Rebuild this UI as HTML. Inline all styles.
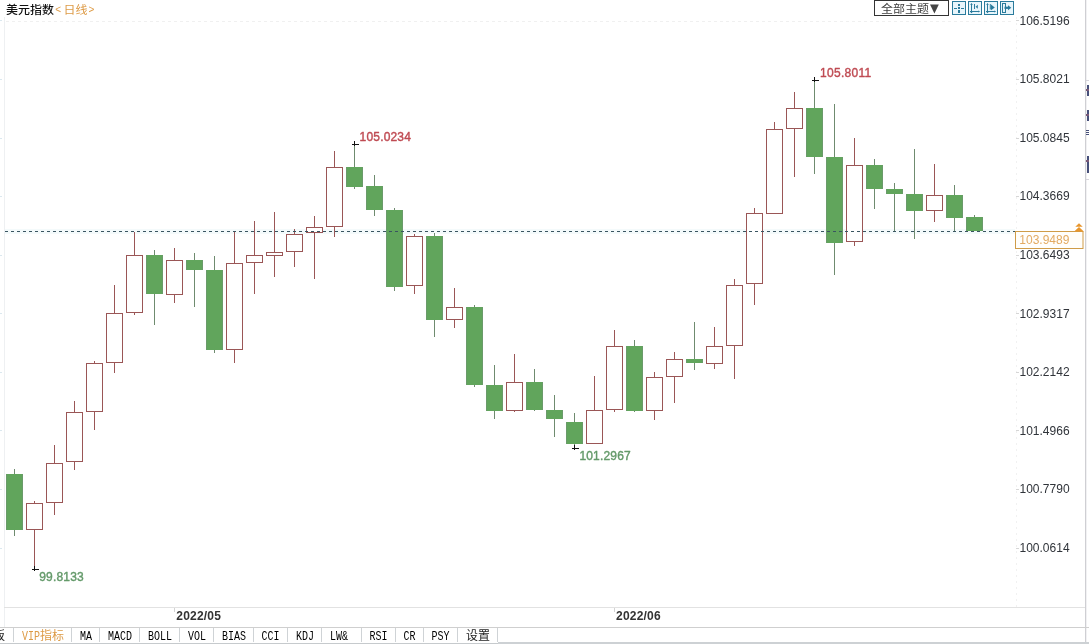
<!DOCTYPE html>
<html lang="zh-CN">
<head>
<meta charset="utf-8">
<title>美元指数 日线</title>
<style>
html,body{margin:0;padding:0;background:#fff;}
body{width:1089px;height:644px;overflow:hidden;}
svg{display:block;}
.sans{font-family:"Liberation Sans","Noto Sans CJK SC",sans-serif;}
.cjk{font-family:"Liberation Sans","Noto Sans CJK SC",sans-serif;}
.mono{font-family:"Liberation Mono","Noto Sans CJK SC",monospace;}
</style>
</head>
<body>
<svg width="1089" height="644" viewBox="0 0 1089 644">
<rect x="0" y="0" width="1089" height="644" fill="#ffffff"/>

<g shape-rendering="crispEdges">
<rect x="4" y="17" width="1" height="610" fill="#eef0f2"/>
<rect x="1085" y="0" width="1" height="644" fill="#cfcfd3"/>
<rect x="1086" y="0" width="1" height="644" fill="#f1f1f3"/>
<rect x="1086" y="80" width="3" height="1" fill="#d6d4dc"/>
<rect x="1086" y="179" width="3" height="1" fill="#d6d4dc"/>
<rect x="4" y="607" width="1081" height="1" fill="#e2e2e2"/>
<rect x="0" y="627" width="1089" height="1" fill="#cfcfcf"/>
<rect x="0" y="643" width="498" height="1" fill="#c6cacd"/>
<rect x="498" y="642" width="591" height="2" fill="#cdd1d4"/>
</g>
<line x1="6" y1="21.5" x2="1013" y2="21.5" stroke="#f0f0f0" stroke-width="1" stroke-dasharray="3 3"/>
<line x1="1016.5" y1="17" x2="1016.5" y2="607" stroke="#f1f1f1" stroke-width="1" stroke-dasharray="2 4"/>
<g class="sans" font-size="12" fill="#30343a">
<text x="1019.5" y="24.7">106.5196</text>
<text x="1019.5" y="83.3">105.8021</text>
<text x="1019.5" y="141.9">105.0845</text>
<text x="1019.5" y="200.4">104.3669</text>
<text x="1019.5" y="259.0">103.6493</text>
<text x="1019.5" y="317.6">102.9317</text>
<text x="1019.5" y="376.2">102.2142</text>
<text x="1019.5" y="434.8">101.4966</text>
<text x="1019.5" y="493.3">100.7790</text>
<text x="1019.5" y="551.9">100.0614</text>
</g>
<g stroke="#d6d6d6" stroke-width="1">
<line x1="1016" y1="20.5" x2="1019" y2="20.5"/>
<line x1="1016" y1="79.5" x2="1019" y2="79.5"/>
<line x1="1016" y1="138.5" x2="1019" y2="138.5"/>
<line x1="1016" y1="196.5" x2="1019" y2="196.5"/>
<line x1="1016" y1="255.5" x2="1019" y2="255.5"/>
<line x1="1016" y1="313.5" x2="1019" y2="313.5"/>
<line x1="1016" y1="372.5" x2="1019" y2="372.5"/>
<line x1="1016" y1="430.5" x2="1019" y2="430.5"/>
<line x1="1016" y1="489.5" x2="1019" y2="489.5"/>
<line x1="1016" y1="548.5" x2="1019" y2="548.5"/>
</g>
<g stroke="#dbe8ef" stroke-width="1">
<line x1="0" y1="20.5" x2="2" y2="20.5"/>
<line x1="0" y1="79.5" x2="2" y2="79.5"/>
<line x1="0" y1="138.5" x2="2" y2="138.5"/>
<line x1="0" y1="196.5" x2="2" y2="196.5"/>
<line x1="0" y1="255.5" x2="2" y2="255.5"/>
<line x1="0" y1="313.5" x2="2" y2="313.5"/>
<line x1="0" y1="372.5" x2="2" y2="372.5"/>
<line x1="0" y1="430.5" x2="2" y2="430.5"/>
<line x1="0" y1="489.5" x2="2" y2="489.5"/>
<line x1="0" y1="548.5" x2="2" y2="548.5"/>
</g>
<line x1="5" y1="231.5" x2="1015" y2="231.5" stroke="#e9f6f8" stroke-opacity="0.5" stroke-width="5"/>
<g shape-rendering="crispEdges">
<rect x="14" y="469" width="1" height="67" fill="#6f8b6f"/>
<rect x="6" y="474" width="17" height="56" fill="#61a55c"/>
<rect x="6" y="474" width="1" height="56" fill="#6a9a6a"/><rect x="22" y="474" width="1" height="56" fill="#6a9a6a"/>
<rect x="34" y="501" width="1" height="2" fill="#9a5656"/>
<rect x="34" y="530" width="1" height="39" fill="#9a5656"/>
<rect x="26.5" y="503.5" width="16" height="26" fill="#ffffff" stroke="#9a5656" stroke-width="1"/>
<rect x="54" y="445" width="1" height="18" fill="#9a5656"/>
<rect x="54" y="503" width="1" height="12" fill="#9a5656"/>
<rect x="46.5" y="463.5" width="16" height="39" fill="#ffffff" stroke="#9a5656" stroke-width="1"/>
<rect x="74" y="401" width="1" height="11" fill="#9a5656"/>
<rect x="74" y="462" width="1" height="8" fill="#9a5656"/>
<rect x="66.5" y="412.5" width="16" height="49" fill="#ffffff" stroke="#9a5656" stroke-width="1"/>
<rect x="94" y="361" width="1" height="2" fill="#9a5656"/>
<rect x="94" y="412" width="1" height="18" fill="#9a5656"/>
<rect x="86.5" y="363.5" width="16" height="48" fill="#ffffff" stroke="#9a5656" stroke-width="1"/>
<rect x="114" y="285" width="1" height="28" fill="#9a5656"/>
<rect x="114" y="363" width="1" height="10" fill="#9a5656"/>
<rect x="106.5" y="313.5" width="16" height="49" fill="#ffffff" stroke="#9a5656" stroke-width="1"/>
<rect x="134" y="232" width="1" height="23" fill="#9a5656"/>
<rect x="134" y="313" width="1" height="2" fill="#9a5656"/>
<rect x="126.5" y="255.5" width="16" height="57" fill="#ffffff" stroke="#9a5656" stroke-width="1"/>
<rect x="154" y="250" width="1" height="75" fill="#6f8b6f"/>
<rect x="146" y="255" width="17" height="39" fill="#61a55c"/>
<rect x="146" y="255" width="1" height="39" fill="#6a9a6a"/><rect x="162" y="255" width="1" height="39" fill="#6a9a6a"/>
<rect x="174" y="248" width="1" height="12" fill="#9a5656"/>
<rect x="174" y="295" width="1" height="8" fill="#9a5656"/>
<rect x="166.5" y="260.5" width="16" height="34" fill="#ffffff" stroke="#9a5656" stroke-width="1"/>
<rect x="194" y="253" width="1" height="54" fill="#6f8b6f"/>
<rect x="186" y="260" width="17" height="10" fill="#61a55c"/>
<rect x="186" y="260" width="1" height="10" fill="#6a9a6a"/><rect x="202" y="260" width="1" height="10" fill="#6a9a6a"/>
<rect x="214" y="256" width="1" height="97" fill="#6f8b6f"/>
<rect x="206" y="270" width="17" height="80" fill="#61a55c"/>
<rect x="206" y="270" width="1" height="80" fill="#6a9a6a"/><rect x="222" y="270" width="1" height="80" fill="#6a9a6a"/>
<rect x="234" y="232" width="1" height="31" fill="#9a5656"/>
<rect x="234" y="350" width="1" height="13" fill="#9a5656"/>
<rect x="226.5" y="263.5" width="16" height="86" fill="#ffffff" stroke="#9a5656" stroke-width="1"/>
<rect x="254" y="221" width="1" height="34" fill="#9a5656"/>
<rect x="254" y="263" width="1" height="31" fill="#9a5656"/>
<rect x="246.5" y="255.5" width="16" height="7" fill="#ffffff" stroke="#9a5656" stroke-width="1"/>
<rect x="274" y="212" width="1" height="40" fill="#9a5656"/>
<rect x="274" y="256" width="1" height="21" fill="#9a5656"/>
<rect x="266.5" y="252.5" width="16" height="3" fill="#ffffff" stroke="#9a5656" stroke-width="1"/>
<rect x="294" y="229" width="1" height="5" fill="#9a5656"/>
<rect x="294" y="252" width="1" height="15" fill="#9a5656"/>
<rect x="286.5" y="234.5" width="16" height="17" fill="#ffffff" stroke="#9a5656" stroke-width="1"/>
<rect x="314" y="216" width="1" height="11" fill="#9a5656"/>
<rect x="314" y="233" width="1" height="46" fill="#9a5656"/>
<rect x="306.5" y="227.5" width="16" height="5" fill="#ffffff" stroke="#9a5656" stroke-width="1"/>
<rect x="334" y="151" width="1" height="16" fill="#9a5656"/>
<rect x="334" y="227" width="1" height="10" fill="#9a5656"/>
<rect x="326.5" y="167.5" width="16" height="59" fill="#ffffff" stroke="#9a5656" stroke-width="1"/>
<rect x="354" y="144" width="1" height="45" fill="#6f8b6f"/>
<rect x="346" y="167" width="17" height="20" fill="#61a55c"/>
<rect x="346" y="167" width="1" height="20" fill="#6a9a6a"/><rect x="362" y="167" width="1" height="20" fill="#6a9a6a"/>
<rect x="374" y="175" width="1" height="41" fill="#6f8b6f"/>
<rect x="366" y="186" width="17" height="24" fill="#61a55c"/>
<rect x="366" y="186" width="1" height="24" fill="#6a9a6a"/><rect x="382" y="186" width="1" height="24" fill="#6a9a6a"/>
<rect x="394" y="208" width="1" height="83" fill="#6f8b6f"/>
<rect x="386" y="210" width="17" height="77" fill="#61a55c"/>
<rect x="386" y="210" width="1" height="77" fill="#6a9a6a"/><rect x="402" y="210" width="1" height="77" fill="#6a9a6a"/>
<rect x="414" y="234" width="1" height="2" fill="#9a5656"/>
<rect x="414" y="286" width="1" height="8" fill="#9a5656"/>
<rect x="406.5" y="236.5" width="16" height="49" fill="#ffffff" stroke="#9a5656" stroke-width="1"/>
<rect x="434" y="233" width="1" height="104" fill="#6f8b6f"/>
<rect x="426" y="236" width="17" height="84" fill="#61a55c"/>
<rect x="426" y="236" width="1" height="84" fill="#6a9a6a"/><rect x="442" y="236" width="1" height="84" fill="#6a9a6a"/>
<rect x="454" y="288" width="1" height="19" fill="#9a5656"/>
<rect x="454" y="320" width="1" height="8" fill="#9a5656"/>
<rect x="446.5" y="307.5" width="16" height="12" fill="#ffffff" stroke="#9a5656" stroke-width="1"/>
<rect x="474" y="305" width="1" height="82" fill="#6f8b6f"/>
<rect x="466" y="307" width="17" height="78" fill="#61a55c"/>
<rect x="466" y="307" width="1" height="78" fill="#6a9a6a"/><rect x="482" y="307" width="1" height="78" fill="#6a9a6a"/>
<rect x="494" y="365" width="1" height="54" fill="#6f8b6f"/>
<rect x="486" y="385" width="17" height="26" fill="#61a55c"/>
<rect x="486" y="385" width="1" height="26" fill="#6a9a6a"/><rect x="502" y="385" width="1" height="26" fill="#6a9a6a"/>
<rect x="514" y="354" width="1" height="28" fill="#9a5656"/>
<rect x="514" y="411" width="1" height="1" fill="#9a5656"/>
<rect x="506.5" y="382.5" width="16" height="28" fill="#ffffff" stroke="#9a5656" stroke-width="1"/>
<rect x="534" y="369" width="1" height="42" fill="#6f8b6f"/>
<rect x="526" y="382" width="17" height="28" fill="#61a55c"/>
<rect x="526" y="382" width="1" height="28" fill="#6a9a6a"/><rect x="542" y="382" width="1" height="28" fill="#6a9a6a"/>
<rect x="554" y="395" width="1" height="42" fill="#6f8b6f"/>
<rect x="546" y="410" width="17" height="9" fill="#61a55c"/>
<rect x="546" y="410" width="1" height="9" fill="#6a9a6a"/><rect x="562" y="410" width="1" height="9" fill="#6a9a6a"/>
<rect x="574" y="413" width="1" height="35" fill="#6f8b6f"/>
<rect x="566" y="422" width="17" height="22" fill="#61a55c"/>
<rect x="566" y="422" width="1" height="22" fill="#6a9a6a"/><rect x="582" y="422" width="1" height="22" fill="#6a9a6a"/>
<rect x="594" y="376" width="1" height="34" fill="#9a5656"/>
<rect x="586.5" y="410.5" width="16" height="33" fill="#ffffff" stroke="#9a5656" stroke-width="1"/>
<rect x="614" y="330" width="1" height="16" fill="#9a5656"/>
<rect x="614" y="410" width="1" height="2" fill="#9a5656"/>
<rect x="606.5" y="346.5" width="16" height="63" fill="#ffffff" stroke="#9a5656" stroke-width="1"/>
<rect x="634" y="340" width="1" height="72" fill="#6f8b6f"/>
<rect x="626" y="346" width="17" height="65" fill="#61a55c"/>
<rect x="626" y="346" width="1" height="65" fill="#6a9a6a"/><rect x="642" y="346" width="1" height="65" fill="#6a9a6a"/>
<rect x="654" y="372" width="1" height="5" fill="#9a5656"/>
<rect x="654" y="411" width="1" height="9" fill="#9a5656"/>
<rect x="646.5" y="377.5" width="16" height="33" fill="#ffffff" stroke="#9a5656" stroke-width="1"/>
<rect x="674" y="352" width="1" height="7" fill="#9a5656"/>
<rect x="674" y="377" width="1" height="26" fill="#9a5656"/>
<rect x="666.5" y="359.5" width="16" height="17" fill="#ffffff" stroke="#9a5656" stroke-width="1"/>
<rect x="694" y="322" width="1" height="48" fill="#6f8b6f"/>
<rect x="686" y="359" width="17" height="4" fill="#61a55c"/>
<rect x="686" y="359" width="1" height="4" fill="#6a9a6a"/><rect x="702" y="359" width="1" height="4" fill="#6a9a6a"/>
<rect x="714" y="327" width="1" height="19" fill="#9a5656"/>
<rect x="714" y="364" width="1" height="5" fill="#9a5656"/>
<rect x="706.5" y="346.5" width="16" height="17" fill="#ffffff" stroke="#9a5656" stroke-width="1"/>
<rect x="734" y="279" width="1" height="6" fill="#9a5656"/>
<rect x="734" y="346" width="1" height="33" fill="#9a5656"/>
<rect x="726.5" y="285.5" width="16" height="60" fill="#ffffff" stroke="#9a5656" stroke-width="1"/>
<rect x="754" y="208" width="1" height="5" fill="#9a5656"/>
<rect x="754" y="284" width="1" height="21" fill="#9a5656"/>
<rect x="746.5" y="213.5" width="16" height="70" fill="#ffffff" stroke="#9a5656" stroke-width="1"/>
<rect x="774" y="122" width="1" height="7" fill="#9a5656"/>
<rect x="766.5" y="129.5" width="16" height="84" fill="#ffffff" stroke="#9a5656" stroke-width="1"/>
<rect x="794" y="92" width="1" height="16" fill="#9a5656"/>
<rect x="794" y="129" width="1" height="48" fill="#9a5656"/>
<rect x="786.5" y="108.5" width="16" height="20" fill="#ffffff" stroke="#9a5656" stroke-width="1"/>
<rect x="814" y="80" width="1" height="94" fill="#6f8b6f"/>
<rect x="806" y="108" width="17" height="49" fill="#61a55c"/>
<rect x="806" y="108" width="1" height="49" fill="#6a9a6a"/><rect x="822" y="108" width="1" height="49" fill="#6a9a6a"/>
<rect x="834" y="104" width="1" height="171" fill="#6f8b6f"/>
<rect x="826" y="157" width="17" height="86" fill="#61a55c"/>
<rect x="826" y="157" width="1" height="86" fill="#6a9a6a"/><rect x="842" y="157" width="1" height="86" fill="#6a9a6a"/>
<rect x="854" y="138" width="1" height="27" fill="#9a5656"/>
<rect x="854" y="242" width="1" height="4" fill="#9a5656"/>
<rect x="846.5" y="165.5" width="16" height="76" fill="#ffffff" stroke="#9a5656" stroke-width="1"/>
<rect x="874" y="159" width="1" height="50" fill="#6f8b6f"/>
<rect x="866" y="165" width="17" height="24" fill="#61a55c"/>
<rect x="866" y="165" width="1" height="24" fill="#6a9a6a"/><rect x="882" y="165" width="1" height="24" fill="#6a9a6a"/>
<rect x="894" y="183" width="1" height="49" fill="#6f8b6f"/>
<rect x="886" y="189" width="17" height="5" fill="#61a55c"/>
<rect x="886" y="189" width="1" height="5" fill="#6a9a6a"/><rect x="902" y="189" width="1" height="5" fill="#6a9a6a"/>
<rect x="914" y="149" width="1" height="90" fill="#6f8b6f"/>
<rect x="906" y="194" width="17" height="17" fill="#61a55c"/>
<rect x="906" y="194" width="1" height="17" fill="#6a9a6a"/><rect x="922" y="194" width="1" height="17" fill="#6a9a6a"/>
<rect x="934" y="164" width="1" height="31" fill="#9a5656"/>
<rect x="934" y="211" width="1" height="11" fill="#9a5656"/>
<rect x="926.5" y="195.5" width="16" height="15" fill="#ffffff" stroke="#9a5656" stroke-width="1"/>
<rect x="954" y="185" width="1" height="46" fill="#6f8b6f"/>
<rect x="946" y="195" width="17" height="23" fill="#61a55c"/>
<rect x="946" y="195" width="1" height="23" fill="#6a9a6a"/><rect x="962" y="195" width="1" height="23" fill="#6a9a6a"/>
<rect x="974" y="215" width="1" height="16" fill="#6f8b6f"/>
<rect x="966" y="217" width="17" height="14" fill="#61a55c"/>
<rect x="966" y="217" width="1" height="14" fill="#6a9a6a"/><rect x="982" y="217" width="1" height="14" fill="#6a9a6a"/>
</g>
<line x1="5" y1="231.5" x2="1015" y2="231.5" stroke="#3a5561" stroke-width="1" stroke-dasharray="3 3" shape-rendering="crispEdges"/>
<g fill="#111111" shape-rendering="crispEdges"><rect x="32" y="569" width="7" height="1"/><rect x="34" y="566" width="1" height="5"/></g>
<g fill="#111111" shape-rendering="crispEdges"><rect x="352" y="144" width="7" height="1"/><rect x="354" y="141" width="1" height="5"/></g>
<g fill="#111111" shape-rendering="crispEdges"><rect x="572" y="448" width="7" height="1"/><rect x="574" y="445" width="1" height="5"/></g>
<g fill="#111111" shape-rendering="crispEdges"><rect x="812" y="80" width="7" height="1"/><rect x="814" y="77" width="1" height="5"/></g>
<g class="sans" font-size="12" stroke-width="0.4" stroke-linejoin="round">
<text x="39.2" y="581.2" fill="#649a6a" stroke="#649a6a" textLength="44.6" lengthAdjust="spacing">99.8133</text>
<text x="359.6" y="141.2" fill="#bf4a52" stroke="#bf4a52" textLength="51.3" lengthAdjust="spacing">105.0234</text>
<text x="579.4" y="459.9" fill="#649a6a" stroke="#649a6a" textLength="51.3" lengthAdjust="spacing">101.2967</text>
<text x="820" y="77" fill="#bf4a52" stroke="#bf4a52" textLength="51.3" lengthAdjust="spacing">105.8011</text>
</g>
<text class="cjk" x="6" y="14.3" font-size="11.3" font-weight="500" fill="#111111" textLength="48" lengthAdjust="spacingAndGlyphs">美元指数</text>
<text class="cjk" y="14.3" fill="#dd9a45" font-size="11.3"><tspan x="55.3" y="13.4" font-size="10">&lt;</tspan><tspan x="63.4" y="14.3" textLength="24" lengthAdjust="spacingAndGlyphs">日线</tspan><tspan x="88.4" y="13.4" font-size="10">&gt;</tspan></text>
<rect x="874.5" y="0.5" width="74" height="15" fill="#ffffff" stroke="#333333" stroke-width="1" shape-rendering="crispEdges"/>
<text class="cjk" x="881" y="12.8" font-size="11.3" fill="#3c3c3c" textLength="48" lengthAdjust="spacingAndGlyphs">全部主题</text>
<text x="930" y="11.5" font-size="11.5" fill="#444444" style="font-family:'DejaVu Sans','Liberation Sans',sans-serif">▼</text>
<rect x="952.5" y="1.5" width="13" height="13" fill="#e8f5fb" stroke="#2a7b9c" stroke-width="1" shape-rendering="crispEdges"/>
<rect x="968.5" y="1.5" width="13" height="13" fill="#e8f5fb" stroke="#2a7b9c" stroke-width="1" shape-rendering="crispEdges"/>
<rect x="984.5" y="1.5" width="13" height="13" fill="#e8f5fb" stroke="#2a7b9c" stroke-width="1" shape-rendering="crispEdges"/>
<rect x="1000.5" y="1.5" width="13" height="13" fill="#e8f5fb" stroke="#2a7b9c" stroke-width="1" shape-rendering="crispEdges"/>
<g fill="#2a7b9c" shape-rendering="crispEdges"><rect x="954" y="7.5" width="3" height="1.5"/><rect x="961" y="7.5" width="3" height="1.5"/><rect x="958.3" y="3.5" width="1.5" height="2.2"/><rect x="958.3" y="10.3" width="1.5" height="2.2"/><rect x="958.3" y="7.3" width="1.5" height="1.7"/></g>
<g stroke="#2a7b9c" stroke-width="1" fill="#2a7b9c"><path d="M971.5 3.5V12.5M970 11.5H979.5" fill="none"/><path d="M970.2 5L971.5 3.2L972.8 5Z M978 10.4L979.8 11.5L978 12.6Z M970.4 12L971.5 13.3L972.6 12Z" stroke="none"/><path d="M974.5 4V9" fill="none"/><path d="M975.6 6.7L977.8 4.7V8.7Z" stroke="none"/></g>
<g stroke="#2a7b9c" stroke-width="1" fill="#2a7b9c"><path d="M987.5 3.5V12.5M986 11.5H995.5" fill="none"/><path d="M986.2 5L987.5 3.2L988.8 5Z M994 10.4L995.8 11.5L994 12.6Z M986.4 12L987.5 13.3L988.6 12Z" stroke="none"/><path d="M990.3 4V9.5" fill="none"/><path d="M991 4.6L994.8 7.4L991 10.2Z" stroke="none"/></g>
<g stroke="#2a7b9c" stroke-width="1" fill="none"><rect x="1002.5" y="3.5" width="3" height="9"/><path d="M1004.5 7.8H1009" stroke-width="2.2"/><path d="M1008 5.3L1011.3 7.8L1008 10.3Z" fill="#2a7b9c" stroke="none"/></g>
<rect x="1015.5" y="231.5" width="67.5" height="17" fill="#fffefb" stroke="#cf9c48" stroke-width="1"/>
<text class="sans" x="1019.3" y="243.8" font-size="12" fill="#e3aa62">103.9489</text>
<path d="M1079 223.2L1082.7 226.8H1075.3Z M1079 227L1083.8 231.4H1074.2Z" fill="#e8962e"/>
<g fill="#47507a" shape-rendering="crispEdges">
<rect x="1087" y="85" width="2" height="11"/><rect x="1086" y="89" width="3" height="2" fill="#7a5a78"/>
<rect x="1087" y="110" width="2" height="11"/><rect x="1086" y="114" width="3" height="2" fill="#7a5a78"/>
<rect x="1087" y="156" width="2" height="17"/><rect x="1086" y="160" width="3" height="2" fill="#7a5a78"/>
<rect x="1086" y="130" width="3" height="1"/><rect x="1086" y="132" width="3" height="1"/><rect x="1086" y="134" width="3" height="1"/>
</g>
<g class="sans" font-size="12" font-weight="bold" fill="#333333">
<text x="176.3" y="620" textLength="44.6" lengthAdjust="spacing">2022/05</text>
<text x="616" y="620" textLength="44.6" lengthAdjust="spacing">2022/06</text>
</g>
<g stroke="#d4d4d4" stroke-width="1"><line x1="174.5" y1="608" x2="174.5" y2="612"/><line x1="614.5" y1="608" x2="614.5" y2="612"/></g>
<g stroke="#cfd3d6" stroke-width="1" shape-rendering="crispEdges">
<line x1="13.5" y1="628" x2="13.5" y2="642"/>
<line x1="71.5" y1="628" x2="71.5" y2="642"/>
<line x1="99.5" y1="628" x2="99.5" y2="642"/>
<line x1="139.5" y1="628" x2="139.5" y2="642"/>
<line x1="179.5" y1="628" x2="179.5" y2="642"/>
<line x1="213.5" y1="628" x2="213.5" y2="642"/>
<line x1="253.5" y1="628" x2="253.5" y2="642"/>
<line x1="287.5" y1="628" x2="287.5" y2="642"/>
<line x1="321.5" y1="628" x2="321.5" y2="642"/>
<line x1="361.5" y1="628" x2="361.5" y2="642"/>
<line x1="395.5" y1="628" x2="395.5" y2="642"/>
<line x1="423.5" y1="628" x2="423.5" y2="642"/>
<line x1="457.5" y1="628" x2="457.5" y2="642"/>
<line x1="497.5" y1="628" x2="497.5" y2="642"/>
</g>
<g class="mono" font-size="12" fill="#000000">
<text x="80" y="639.5" textLength="12" lengthAdjust="spacingAndGlyphs">MA</text>
<text x="108" y="639.5" textLength="24" lengthAdjust="spacingAndGlyphs">MACD</text>
<text x="148" y="639.5" textLength="24" lengthAdjust="spacingAndGlyphs">BOLL</text>
<text x="188" y="639.5" textLength="18" lengthAdjust="spacingAndGlyphs">VOL</text>
<text x="222" y="639.5" textLength="24" lengthAdjust="spacingAndGlyphs">BIAS</text>
<text x="261.5" y="639.5" textLength="18" lengthAdjust="spacingAndGlyphs">CCI</text>
<text x="296" y="639.5" textLength="18" lengthAdjust="spacingAndGlyphs">KDJ</text>
<text x="330" y="639.5" textLength="18" lengthAdjust="spacingAndGlyphs">LW&amp;</text>
<text x="369.5" y="639.5" textLength="18" lengthAdjust="spacingAndGlyphs">RSI</text>
<text x="403.5" y="639.5" textLength="12" lengthAdjust="spacingAndGlyphs">CR</text>
<text x="431.5" y="639.5" textLength="18" lengthAdjust="spacingAndGlyphs">PSY</text>
</g>
<text class="mono" x="22" y="639.5" font-size="12" fill="#dd9a45" textLength="18" lengthAdjust="spacingAndGlyphs">VIP</text>
<text class="cjk" x="40" y="640" font-size="12" fill="#dd9a45" textLength="24" lengthAdjust="spacingAndGlyphs">指标</text>
<text class="cjk" x="-7" y="640" font-size="12" fill="#222222">板</text>
<text class="cjk" x="466" y="640" font-size="12" fill="#222222" textLength="24" lengthAdjust="spacingAndGlyphs">设置</text>
</svg>
</body>
</html>
